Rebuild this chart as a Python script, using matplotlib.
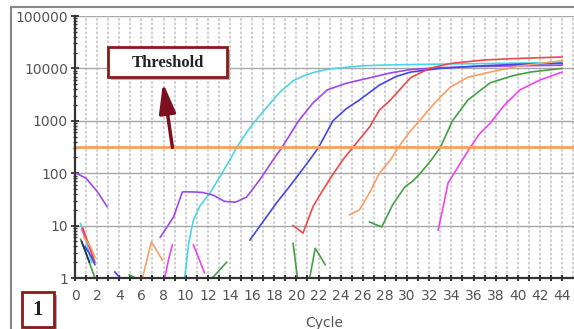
import matplotlib
matplotlib.use("Agg")
import matplotlib.pyplot as plt
from matplotlib.patches import Rectangle
from matplotlib.lines import Line2D
import numpy as np

# ---------------------------------------------------------------------------
# Data
# ---------------------------------------------------------------------------
threshold = 310

cyan_x = [9.9, 10.3, 10.7, 11.3, 12.2, 13.0, 14.0, 14.6, 15.5, 16.3, 17.5, 18.5, 19.7,
          20.5, 21.5, 22.5, 23.5, 24.5, 26, 28, 32, 36, 40, 44]
cyan_y = [1, 5, 12.8, 24, 42, 80, 180, 310, 600, 1000, 2000, 3500, 5800,
          7000, 8300, 9300, 10000, 10500, 11200, 11600, 12000, 12300, 12600, 13000]

purple_x = [7.7, 8.9, 9.7, 10.5, 11.5, 12.5, 13.5, 14.5, 15.5, 16.7, 17.9, 18.7, 20.2,
            21.5, 22.8, 24.5, 26.6, 28.5, 30.3, 33, 36, 40, 44]
purple_y = [6, 14.5, 44, 44, 43, 38, 29, 28, 35, 75, 180, 310, 1000,
            2200, 3900, 5200, 6600, 8200, 9500, 10300, 10800, 11200, 11500]

blue_x = [15.8, 17, 18.2, 19.5, 21.2, 22, 23.3, 24.5, 25.7, 27.5, 29, 30.3, 33, 36, 40, 44]
blue_y = [5.3, 12, 27, 60, 180, 310, 1000, 1700, 2500, 4800, 7000, 8500, 10000, 11000, 12000, 12500]

red_x = [19.7, 20.6, 21.5, 22.4, 23.3, 24.2, 25.1, 26.6, 27.5, 28.5, 30.3, 32, 34, 37, 40, 44]
red_y = [10, 7.2, 23, 48, 95, 180, 310, 760, 1600, 2500, 6600, 10000, 12500, 14500, 15500, 16500]

orange_x = [24.8, 25.7, 26.6, 27.5, 28.5, 29.2, 30.2, 31.2, 32.5, 33.9, 35.5, 37.5, 40, 44]
orange_y = [16, 20, 42, 100, 180, 310, 600, 1050, 2200, 4400, 6800, 8500, 11000, 14000]

green_x = [26.6, 27.7, 28.7, 29.8, 30.5, 31.2, 32.2, 33, 34.1, 35.5, 37.5, 39.5, 41.1, 44]
green_y = [11.7, 9.4, 25, 55, 70, 100, 180, 310, 1000, 2500, 5300, 7200, 8500, 10000]

magenta_x = [32.8, 33.3, 33.7, 35, 35.7, 36.5, 37.5, 38.8, 40.2, 42, 44]
magenta_y = [8.2, 25, 65, 180, 310, 550, 900, 2000, 3900, 6000, 8500]

# early / baseline noise fragments: (colour, cycles, values)
noise = [
    ("purple", [0.1, 1.0, 2.0, 2.9], [100, 80, 45, 23]),
    ("cyan", [0.5, 1.0, 1.5], [11, 5, 2]),
    ("magenta", [0.6, 1.2, 1.6], [8.5, 4.5, 2.5]),
    ("red", [0.7, 1.3, 1.8], [9, 4, 2]),
    ("green", [0.5, 1.0, 1.5, 1.8], [5.5, 3, 1.5, 1]),
    ("orange", [0.8, 1.4, 1.8], [6, 4, 2.5]),
    ("blue", [0.9, 1.5, 1.8], [4, 2.5, 1.8]),
    ("dark", [0.6, 1.3], [5, 2]),
    ("blue", [3.6, 4.1], [1.3, 1.0]),
    ("green", [4.9, 5.3], [1.15, 1.05]),
    ("orange", [6.1, 6.9, 7.9], [1, 4.9, 2.2]),
    ("magenta", [8.1, 8.5, 8.8], [1, 2.5, 4.3]),
    ("magenta", [10.7, 11.7], [4.3, 1.25]),
    ("green", [12.4, 13.7], [1, 2]),
    ("green", [19.7, 20.1], [4.6, 1]),
    ("green", [21.2, 21.7, 22.6], [1, 3.7, 1.8]),
]

colors = {
    "cyan": "#4ad6e6",
    "purple": "#a046ee",
    "blue": "#4646e0",
    "red": "#f04848",
    "orange": "#f8a060",
    "green": "#44a044",
    "magenta": "#ee44ee",
    "dark": "#203060",
}

x_ticks = list(range(0, 45, 2))
y_ticks = [1, 10, 100, 1000, 10000, 100000]

# ---------------------------------------------------------------------------
# Plot
# ---------------------------------------------------------------------------
W, H = 574, 329
fig = plt.figure(figsize=(W / 100, H / 100), dpi=100)
ax = fig.add_axes([75 / W, (H - 278) / H, (574 - 75) / W, (278 - 16) / H])

ax.set_yscale("log")
ax.set_xlim(0, (574 - 75) / 11.07)
ax.set_ylim(1, 100000)

# grid: dotted vertical each cycle, solid horizontal per decade
for c in range(0, 46):
    ax.axvline(c, color="#cccccc", lw=1.3, ls=(0, (1.5, 1)), zorder=0)
for v in y_ticks[1:]:
    ax.axhline(v, color="#a8a8a8", lw=1.0, zorder=0)

lw = 1.2
ax.plot(cyan_x, cyan_y, color=colors["cyan"], lw=lw, zorder=3)
ax.plot(purple_x, purple_y, color=colors["purple"], lw=lw, zorder=3)
ax.plot(blue_x, blue_y, color=colors["blue"], lw=lw, zorder=3)
ax.plot(red_x, red_y, color=colors["red"], lw=lw, zorder=3)
ax.plot(orange_x, orange_y, color=colors["orange"], lw=lw, zorder=3)
ax.plot(green_x, green_y, color=colors["green"], lw=lw, zorder=3)
ax.plot(magenta_x, magenta_y, color=colors["magenta"], lw=lw, zorder=3)
for name, xs, ys in noise:
    ax.plot(xs, ys, color=colors[name], lw=lw, zorder=3)

ax.axhline(threshold, color="#f5a05a", lw=2.0, zorder=4)

# axes styling
for side in ("top", "right"):
    ax.spines[side].set_visible(False)
for side in ("left", "bottom"):
    ax.spines[side].set_color("#333333")
    ax.spines[side].set_linewidth(1.6)
    ax.spines[side].set_zorder(5)

ax.set_xticks(x_ticks)
ax.set_xticks(range(0, 45), minor=True)
ax.set_yticks(y_ticks)
ax.set_yticklabels([str(v) for v in y_ticks])
ax.yaxis.set_minor_locator(matplotlib.ticker.LogLocator(base=10, subs=np.arange(2, 10)))
ax.yaxis.set_minor_formatter(matplotlib.ticker.NullFormatter())
ax.tick_params(axis="both", which="both", direction="inout", color="#333333",
               labelsize=10, labelcolor="#555555")
ax.tick_params(axis="x", which="both", length=4, width=1.5, pad=6)
ax.tick_params(axis="y", which="major", length=6, width=1.3, pad=2)
ax.tick_params(axis="y", which="minor", length=3, width=1.0)
ax.set_xlabel("Cycle", fontsize=10, color="#555555", labelpad=9)

# threshold callout box with shadow and arrow
def fig_rect(x0, y0, x1, y1, **kw):
    return Rectangle((x0 / W, (H - y1) / H), (x1 - x0) / W, (y1 - y0) / H,
                     transform=fig.transFigure, **kw)

fig.add_artist(fig_rect(111, 50, 230, 80, facecolor="#b0b0b0", edgecolor="none", zorder=8))
fig.add_artist(fig_rect(108, 47, 227, 77, facecolor="white", edgecolor="#8b1a1a",
                        lw=2.0, zorder=9))
fig.text(167.5 / W, (H - 63) / H, "Threshold", ha="center", va="center",
         fontsize=12, fontweight="bold", family="Liberation Serif", color="#222222", zorder=10)

ax.annotate("", xy=(7.95, 5300), xytext=(8.8, threshold),
            arrowprops=dict(arrowstyle="-|>,head_length=0.9,head_width=0.25", color="#7d1020",
                            lw=2.5, mutation_scale=20, shrinkA=0, shrinkB=0), zorder=6)

# panel number box
fig.add_artist(fig_rect(25, 295, 57, 330, facecolor="#b0b0b0", edgecolor="none", zorder=8))
fig.add_artist(fig_rect(22, 292, 54, 327, facecolor="white", edgecolor="#8b1a1a",
                        lw=2.0, zorder=9))
fig.text(38 / W, (H - 310) / H, "1", ha="center", va="center",
         fontsize=15, fontweight="bold", family="Liberation Serif", color="#222222", zorder=10)

# outer frame
fig.add_artist(Line2D([11 / W, 1.0], [(H - 7) / H, (H - 7) / H], transform=fig.transFigure,
                      color="#888888", lw=1.5))
fig.add_artist(Line2D([11 / W, 11 / W], [0, (H - 7) / H], transform=fig.transFigure,
                      color="#888888", lw=1.5))

fig.savefig("out.png", dpi=100)
